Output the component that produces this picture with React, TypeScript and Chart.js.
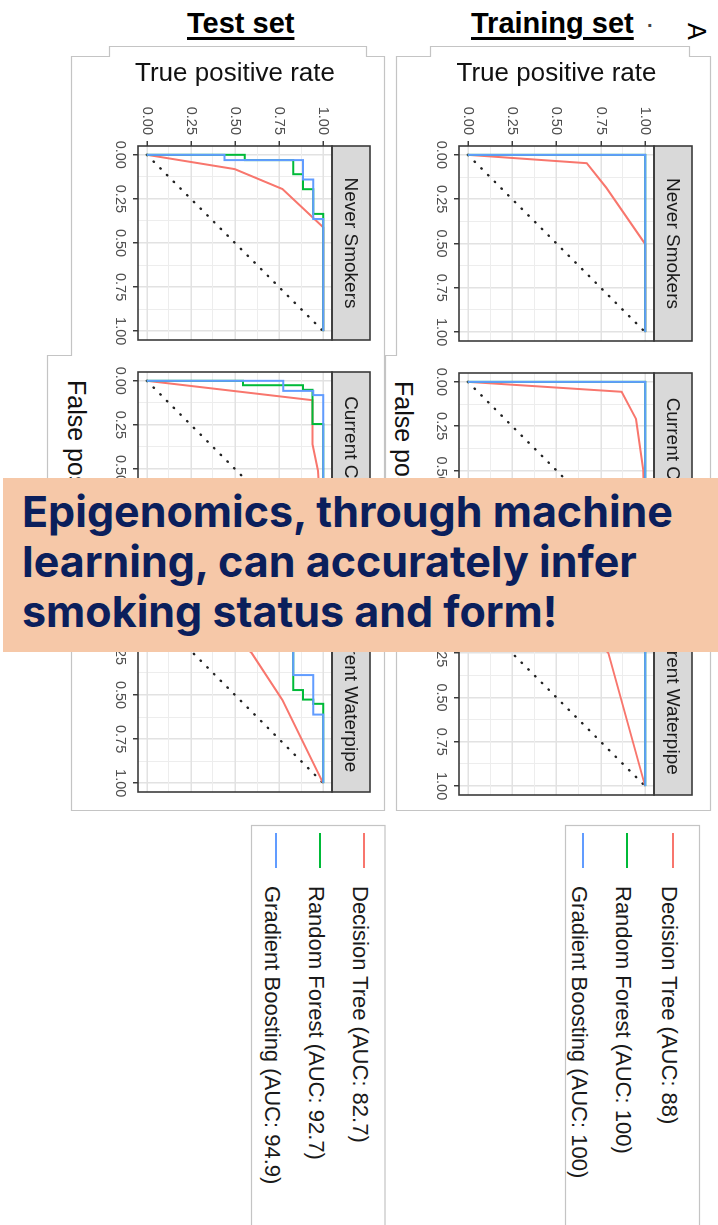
import React, { useEffect, useRef } from 'react';
import { Chart, registerables } from 'chart.js';

Chart.register(...registerables);

const FONT = '"Liberation Sans", Arial, Helvetica, sans-serif';

// axis ticks (both axes: 0..1)
const MAJOR_TICKS = [0, 0.25, 0.5, 0.75, 1];
const MINOR_TICKS = [0.125, 0.375, 0.625, 0.875];
const TICK_LABELS = ['0.00', '0.25', '0.50', '0.75', '1.00'];

const MODELS = ['Decision Tree', 'Random Forest', 'Gradient Boosting'];
const MODEL_COLORS = ['#F8766D', '#00BA38', '#619CFF'];
const TEST_AUC = ['82.7', '92.7', '94.9'];
const TRAIN_AUC = ['88', '100', '100'];
const FACETS = ['Never Smokers', 'Current Cigarette', 'Current Waterpipe'];
const DIAGONAL = [[0, 0], [1, 1]];

// ROC points as [false positive rate, true positive rate]
// Test set
const TEST_NEVER_DT = [[0, 0], [0.081, 0.498], [0.194, 0.769], [0.411, 1], [1, 1]];
const TEST_NEVER_RF = [[0, 0], [0, 0.555], [0.03, 0.555], [0.03, 0.83], [0.11, 0.83], [0.11, 0.886], [0.195, 0.886], [0.195, 0.943], [0.335, 0.943], [0.335, 1], [1, 1]];
const TEST_NEVER_GB = [[0, 0], [0, 0.44], [0.03, 0.44], [0.03, 0.886], [0.14, 0.886], [0.14, 0.943], [0.364, 0.943], [0.364, 1], [1, 1]];

const TEST_CIG_DT = [[0, 0], [0.11, 0.94], [0.36, 0.94], [0.51, 0.97], [1, 1]];
const TEST_CIG_RF = [[0, 0], [0, 0.545], [0.025, 0.545], [0.025, 0.886], [0.051, 0.886], [0.051, 0.94], [0.245, 0.94], [0.245, 1], [1, 1]];
const TEST_CIG_GB = [[0, 0], [0, 0.773], [0.057, 0.773], [0.057, 0.943], [0.081, 0.943], [0.081, 1], [1, 1]];

const TEST_WATER_DT = [[0, 0], [0.1, 0.4], [0.26, 0.593], [0.528, 0.769], [1, 1]];
const TEST_WATER_RF = [[0, 0], [0, 0.5], [0.05, 0.5], [0.05, 0.7], [0.15, 0.7], [0.15, 0.83], [0.472, 0.83], [0.472, 0.886], [0.526, 0.886], [0.526, 0.943], [0.55, 0.943], [0.55, 1], [1, 1]];
const TEST_WATER_GB = [[0, 0], [0, 0.55], [0.08, 0.55], [0.08, 0.83], [0.387, 0.83], [0.387, 0.943], [0.611, 0.943], [0.611, 1], [1, 1]];

// Training set
const TRAIN_NEVER_DT = [[0, 0], [0.047, 0.671], [0.184, 0.78], [0.503, 1], [1, 1]];
const TRAIN_NEVER_RF = [[0, 0], [0, 1], [1, 1]];
const TRAIN_NEVER_GB = [[0, 0], [0, 1], [1, 1]];

const TRAIN_CIG_DT = [[0, 0], [0.056, 0.868], [0.21, 0.949], [0.497, 0.99], [1, 1]];
const TRAIN_CIG_RF = [[0, 0], [0, 1], [1, 1]];
const TRAIN_CIG_GB = [[0, 0], [0, 1], [1, 1]];

const TRAIN_WATER_DT = [[0, 0], [0.04, 0.6], [0.25, 0.793], [1, 1]];
const TRAIN_WATER_RF = [[0, 0], [0, 1], [1, 1]];
const TRAIN_WATER_GB = [[0, 0], [0, 1], [1, 1]];

const TEST_SERIES = [
  [TEST_NEVER_DT, TEST_NEVER_RF, TEST_NEVER_GB],
  [TEST_CIG_DT, TEST_CIG_RF, TEST_CIG_GB],
  [TEST_WATER_DT, TEST_WATER_RF, TEST_WATER_GB],
];
const TRAIN_SERIES = [
  [TRAIN_NEVER_DT, TRAIN_NEVER_RF, TRAIN_NEVER_GB],
  [TRAIN_CIG_DT, TRAIN_CIG_RF, TRAIN_CIG_GB],
  [TRAIN_WATER_DT, TRAIN_WATER_RF, TRAIN_WATER_GB],
];

const isMajor = (v: number) => MAJOR_TICKS.some((m) => Math.abs(m - v) < 1e-9);
const tickLabel = (v: number) => {
  const i = MAJOR_TICKS.findIndex((m) => Math.abs(m - v) < 1e-9);
  return i >= 0 ? TICK_LABELS[i] : '';
};
const ALL_TICKS = [...MAJOR_TICKS, ...MINOR_TICKS].sort((a, b) => a - b);

const STRIP_H = 38;

const panelPlugin = {
  id: 'panelDeco',
  afterDraw(chart: any, _args: any, opts: any) {
    const { ctx, chartArea } = chart;
    const { left, top, right, bottom } = chartArea;
    ctx.save();
    ctx.fillStyle = '#D9D9D9';
    ctx.fillRect(left, top - STRIP_H, right - left, STRIP_H);
    ctx.strokeStyle = '#3a3a3a';
    ctx.lineWidth = 1.6;
    ctx.strokeRect(left, top - STRIP_H, right - left, STRIP_H);
    ctx.fillStyle = '#1A1A1A';
    ctx.font = `19px ${FONT}`;
    ctx.textAlign = 'center';
    ctx.textBaseline = 'middle';
    ctx.fillText(opts.label, (left + right) / 2, top - STRIP_H / 2 + 1);
    ctx.strokeRect(left, top, right - left, bottom - top);
    ctx.restore();
  },
};

type FacetProps = {
  series: number[][][];
  facet: string;
  panelU: number;
  panelV: number;
  size: number;
  showY: boolean;
};

function Facet({ series, facet, panelU, panelV, size, showY }: FacetProps) {
  const ref = useRef<HTMLCanvasElement>(null);
  const left = showY ? 50 : panelU - 10;
  const width = panelU + size + 10 - left;
  const top = panelV - STRIP_H - 4;
  const height = STRIP_H + 4 + size + 34 + 2;
  const yWidth = showY ? panelU - left : 0;

  useEffect(() => {
    if (!ref.current) return;
    const gridColor = (c: any) => (c.tick && isMajor(c.tick.value) ? '#E2E2E2' : '#EDEDED');
    const gridWidth = (c: any) => (c.tick && isMajor(c.tick.value) ? 1.5 : 1);
    const tickColor = (c: any) => (c.tick && isMajor(c.tick.value) ? '#333333' : 'rgba(0,0,0,0)');
    const datasets: any[] = series.map((s, i) => ({
      label: MODELS[i],
      data: s.map(([x, y]) => ({ x, y })),
      borderColor: MODEL_COLORS[i],
      backgroundColor: MODEL_COLORS[i],
      borderWidth: 2,
      pointRadius: 0,
      tension: 0,
      fill: false,
      order: 3 - i,
    }));
    datasets.push({
      label: 'Chance',
      data: DIAGONAL.map(([x, y]) => ({ x, y })),
      borderColor: '#222222',
      borderWidth: 2.4,
      borderDash: [0.5, 9],
      borderCapStyle: 'round',
      pointRadius: 0,
      fill: false,
      order: 10,
    });
    const chart = new Chart(ref.current, {
      type: 'line',
      data: { datasets },
      plugins: [panelPlugin],
      options: {
        animation: false,
        responsive: false,
        maintainAspectRatio: false,
        events: [],
        layout: { padding: { top: STRIP_H + 4, bottom: 2, left: showY ? 0 : 10, right: 10 } },
        plugins: {
          legend: { display: false },
          tooltip: { enabled: false },
          panelDeco: { label: facet },
        } as any,
        scales: {
          x: {
            type: 'linear',
            min: -0.05,
            max: 1.05,
            afterBuildTicks: (a: any) => {
              a.ticks = ALL_TICKS.map((v) => ({ value: v }));
            },
            afterFit: (a: any) => {
              a.height = 34;
            },
            ticks: {
              autoSkip: false,
              maxRotation: 0,
              minRotation: 0,
              padding: 4,
              color: '#4D4D4D',
              font: { family: FONT, size: 14.5 },
              callback: (v: any) => tickLabel(Number(v)),
            },
            grid: {
              color: gridColor,
              lineWidth: gridWidth,
              tickColor,
              tickLength: 5,
              tickWidth: 1.4,
              drawTicks: true,
            },
            border: { display: false },
          },
          y: {
            type: 'linear',
            min: -0.05,
            max: 1.05,
            afterBuildTicks: (a: any) => {
              a.ticks = ALL_TICKS.map((v) => ({ value: v }));
            },
            afterFit: (a: any) => {
              a.width = yWidth;
            },
            ticks: {
              display: showY,
              autoSkip: false,
              padding: 6,
              color: '#4D4D4D',
              font: { family: FONT, size: 14.5 },
              callback: (v: any) => tickLabel(Number(v)),
            },
            grid: {
              color: gridColor,
              lineWidth: gridWidth,
              tickColor,
              tickLength: 5,
              tickWidth: 1.4,
              drawTicks: showY,
            },
            border: { display: false },
            title: {
              display: showY,
              text: 'True positive rate',
              color: '#111111',
              font: { family: FONT, size: 26 },
              padding: { top: 8, bottom: 0 },
            },
          },
        },
      } as any,
    });
    return () => chart.destroy();
  }, []);

  return (
    <canvas
      ref={ref}
      width={width}
      height={height}
      style={{ position: 'absolute', left, top, width, height }}
    />
  );
}

type LegendProps = { aucs: string[]; vs: number[] };
function LegendItems({ aucs, vs }: LegendProps) {
  return (
    <>
      {MODELS.map((m, i) => (
        <React.Fragment key={m}>
          <div
            style={{
              position: 'absolute',
              left: 833,
              top: vs[i] - 1,
              width: 35,
              height: 2,
              background: MODEL_COLORS[i],
            }}
          />
          <div
            style={{
              position: 'absolute',
              left: 886,
              top: vs[i] - 7,
              font: `22px ${FONT}`,
              lineHeight: '22px',
              color: '#1A1A1A',
              whiteSpace: 'nowrap',
            }}
          >
            {`${m} (AUC: ${aucs[i]})`}
          </div>
        </React.Fragment>
      ))}
    </>
  );
}

export default function App() {
  const frameStroke = '#C4C4C4';
  return (
    <div
      style={{
        position: 'absolute',
        left: 0,
        top: 0,
        width: 718,
        height: 1225,
        overflow: 'hidden',
        background: '#FFFFFF',
      }}
    >
      <svg width={718} height={1225} style={{ position: 'absolute', left: 0, top: 0 }}>
        <polygon
          points="109.5,46.5 366.5,46.5 366.5,56.5 384.5,56.5 384.5,810.5 71.5,810.5 71.5,565.5 47.5,565.5 47.5,355.5 71.5,355.5 71.5,56.5 109.5,56.5"
          fill="#FFFFFF"
          stroke={frameStroke}
          strokeWidth={1.2}
        />
        <polygon
          points="430.5,46.5 689.5,46.5 689.5,56.5 710.5,56.5 710.5,810.5 396.5,810.5 396.5,565.5 385.5,565.5 385.5,355.5 396.5,355.5 396.5,56.5 430.5,56.5"
          fill="#FFFFFF"
          stroke={frameStroke}
          strokeWidth={1.2}
        />
        <rect x={251.5} y={825.5} width={133.5} height={500} fill="#FFFFFF" stroke={frameStroke} strokeWidth={1.2} />
        <rect x={565.5} y={825.5} width={134} height={500} fill="#FFFFFF" stroke={frameStroke} strokeWidth={1.2} />
      </svg>

      {/* rotated figure (ggplot-style facets, turned 90deg clockwise) */}
      <div
        style={{
          position: 'absolute',
          left: 0,
          top: 0,
          width: 1225,
          height: 718,
          transformOrigin: '0 0',
          transform: 'translateX(718px) rotate(90deg)',
        }}
      >
        {FACETS.map((f, i) => (
          <Facet
            key={'train' + f}
            series={TRAIN_SERIES[i]}
            facet={f}
            panelU={[146, 373, 600][i]}
            panelV={64}
            size={195}
            showY={i === 0}
          />
        ))}
        {FACETS.map((f, i) => (
          <Facet
            key={'test' + f}
            series={TEST_SERIES[i]}
            facet={f}
            panelU={[146, 372, 598][i]}
            panelV={386}
            size={194}
            showY={i === 0}
          />
        ))}
        <div
          style={{
            position: 'absolute',
            left: 381,
            top: 302,
            font: `25px ${FONT}`,
            lineHeight: '25px',
            color: '#111111',
            whiteSpace: 'nowrap',
          }}
        >
          False positive rate
        </div>
        <div
          style={{
            position: 'absolute',
            left: 380,
            top: 629,
            font: `25px ${FONT}`,
            lineHeight: '25px',
            color: '#111111',
            whiteSpace: 'nowrap',
          }}
        >
          False positive rate
        </div>
        <LegendItems aucs={TRAIN_AUC} vs={[45, 91, 135]} />
        <LegendItems aucs={TEST_AUC} vs={[354, 398, 442]} />
        <div
          style={{
            position: 'absolute',
            left: 23,
            top: 9,
            font: `25px ${FONT}`,
            lineHeight: '25px',
            color: '#000000',
          }}
        >
          A
        </div>
      </div>

      <div
        style={{
          position: 'absolute',
          left: 187,
          top: 9,
          font: `bold 29px ${FONT}`,
          lineHeight: '29px',
          color: '#000000',
          textDecoration: 'underline',
          textDecorationThickness: '2.5px',
          textUnderlineOffset: '4px',
          whiteSpace: 'nowrap',
        }}
      >
        Test set
      </div>
      <div
        style={{
          position: 'absolute',
          left: 471,
          top: 9,
          font: `bold 29px ${FONT}`,
          lineHeight: '29px',
          color: '#000000',
          textDecoration: 'underline',
          textDecorationThickness: '2.5px',
          textUnderlineOffset: '4px',
          whiteSpace: 'nowrap',
        }}
      >
        Training set
      </div>
      <div
        style={{
          position: 'absolute',
          left: 647,
          top: 15,
          font: `bold 20px ${FONT}`,
          lineHeight: '20px',
          color: '#444444',
        }}
      >
        ·
      </div>

      <div
        style={{
          position: 'absolute',
          left: 3,
          top: 478,
          width: 715,
          height: 174,
          background: '#F6C8A8',
        }}
      >
        <div
          style={{
            position: 'absolute',
            left: 19,
            top: 8,
            font: `700 43px Inter, "Open Sans", sans-serif`,
            lineHeight: '50px',
            color: '#0B1F5C',
            whiteSpace: 'nowrap',
          }}
        >
          Epigenomics, through machine
          <br />
          learning, can accurately infer
          <br />
          smoking status and form!
        </div>
      </div>
    </div>
  );
}
